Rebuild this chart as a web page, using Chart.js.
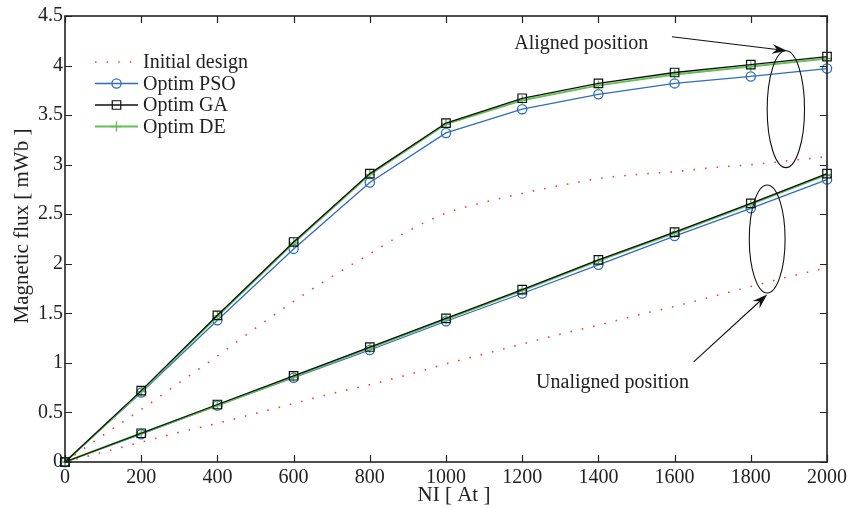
<!DOCTYPE html>
<html><head><meta charset="utf-8">
<script src="https://cdn.jsdelivr.net/npm/chart.js@4.4.1/dist/chart.umd.min.js"></script>
<style>html,body{margin:0;padding:0;background:#fff}#wrap{width:852px;height:508px;position:relative}</style>
</head><body><div id="wrap"><canvas id="c" width="852" height="508"></canvas></div>
<script>
// ---- data ----
const niOpt = [0, 200, 400, 600, 800, 1000, 1200, 1400, 1600, 1800, 2000];
const niInit = [0, 100, 200, 300, 400, 500, 600, 700, 800, 900, 1000, 1100, 1200, 1300, 1400, 1500, 1600, 1700, 1800, 1900, 2000];

const alignedInitial = [0, 0.27, 0.53, 0.80, 1.07, 1.35, 1.62, 1.87, 2.10, 2.33, 2.51, 2.62, 2.71, 2.79, 2.86, 2.90, 2.93, 2.97, 3.00, 3.04, 3.08];
const unalignedInitial = [0, 0.10, 0.20, 0.30, 0.39, 0.49, 0.59, 0.69, 0.78, 0.88, 0.99, 1.09, 1.19, 1.29, 1.38, 1.48, 1.57, 1.67, 1.77, 1.87, 1.96];

const alignedPSO = [0, 0.70, 1.43, 2.15, 2.82, 3.32, 3.56, 3.71, 3.82, 3.89, 3.97];
const alignedGA  = [0, 0.72, 1.48, 2.22, 2.91, 3.42, 3.67, 3.82, 3.93, 4.01, 4.09];
const alignedDE  = [0, 0.71, 1.47, 2.21, 2.90, 3.41, 3.65, 3.80, 3.91, 3.99, 4.07];

const unalignedPSO = [0, 0.28, 0.57, 0.85, 1.13, 1.42, 1.70, 1.99, 2.28, 2.56, 2.85];
const unalignedGA  = [0, 0.29, 0.58, 0.87, 1.16, 1.45, 1.74, 2.04, 2.32, 2.61, 2.91];
const unalignedDE  = [0, 0.29, 0.57, 0.86, 1.15, 1.44, 1.73, 2.03, 2.31, 2.60, 2.90];

const xMin = 0, xMax = 2000, xStep = 200;
const yMin = 0, yMax = 4.5, yStep = 0.5;

const seriesNames = ['Initial design', 'Optim PSO', 'Optim GA', 'Optim DE'];
const xTitle = 'NI [ At ]';
const yTitle = 'Magnetic flux [ mWb ]';
const alignedLabel = 'Aligned position';
const unalignedLabel = 'Unaligned position';

// ---- styles ----
const FONT = "'Liberation Serif', 'Times New Roman', serif";
const TXT = '#222';
const RED = '#ff3b3b', BLUE = '#2e6cc4', BLACK = '#111', GREEN = '#66bf55';

const pts = (xs, ys) => xs.map((v, i) => ({x: v, y: ys[i]}));

const styleInit = {borderColor: RED, borderWidth: 1.6, borderDash: [1.6, 10], borderCapStyle: 'butt', pointRadius: 0, cubicInterpolationMode: 'monotone', order: 4, clip: false};
const stylePSO = {borderColor: BLUE, borderWidth: 1.3, pointStyle: 'circle', pointRadius: 4.6, pointBorderWidth: 1.3, pointBorderColor: BLUE, pointBackgroundColor: 'rgba(0,0,0,0)', order: 3, clip: false};
const styleGA = {borderColor: BLACK, borderWidth: 1.3, pointStyle: 'rect', pointRadius: 6, pointBorderWidth: 1.2, pointBorderColor: BLACK, pointBackgroundColor: 'rgba(0,0,0,0)', order: 1, clip: false};
const styleDE = {borderColor: GREEN, borderWidth: 2, pointStyle: 'cross', pointRadius: 5, pointBorderWidth: 1.4, pointBorderColor: GREEN, order: 2, clip: false};

const datasets = [
  Object.assign({label: seriesNames[0], data: pts(niInit, alignedInitial)}, styleInit),
  Object.assign({label: seriesNames[0], data: pts(niInit, unalignedInitial)}, styleInit),
  Object.assign({label: seriesNames[1], data: pts(niOpt, alignedPSO)}, stylePSO),
  Object.assign({label: seriesNames[1], data: pts(niOpt, unalignedPSO)}, stylePSO),
  Object.assign({label: seriesNames[2], data: pts(niOpt, alignedGA)}, styleGA),
  Object.assign({label: seriesNames[2], data: pts(niOpt, unalignedGA)}, styleGA),
  Object.assign({label: seriesNames[3], data: pts(niOpt, alignedDE)}, styleDE),
  Object.assign({label: seriesNames[3], data: pts(niOpt, unalignedDE)}, styleDE),
];

// annotation geometry in data units
const annot = {
  upperEllipse: {x: 1892, y: 3.56, rx: 49, ry: 0.59},
  lowerEllipse: {x: 1843, y: 2.25, rx: 47, ry: 0.545},
  upperArrow: {x1: 1593, y1: 4.29, x2: 1895, y2: 4.15},
  lowerArrow: {x1: 1650, y1: 1.01, x2: 1843, y2: 1.69},
  upperText: {x: 1355, y: 4.22},
  lowerText: {x: 1437, y: 0.80}
};

function arrowHead(ctx, x1, y1, x2, y2) {
  const ang = Math.atan2(y2 - y1, x2 - x1);
  const L = 15, W = 5, N = 10;
  ctx.save();
  ctx.translate(x2, y2); ctx.rotate(ang);
  ctx.beginPath();
  ctx.moveTo(0, 0);
  ctx.lineTo(-L, -W);
  ctx.lineTo(-N, 0);
  ctx.lineTo(-L, W);
  ctx.closePath();
  ctx.fill();
  ctx.restore();
}

const decor = {
  id: 'decor',
  afterDatasetsDraw(chart) {
    const {ctx, chartArea: a, scales: {x, y}} = chart;
    ctx.save();
    // inward ticks
    ctx.strokeStyle = TXT; ctx.lineWidth = 1.2;
    ctx.beginPath();
    for (const t of x.ticks) {
      const px = Math.round(x.getPixelForValue(t.value)) + 0.5;
      ctx.moveTo(px, a.bottom); ctx.lineTo(px, a.bottom - 7);
      ctx.moveTo(px, a.top); ctx.lineTo(px, a.top + 7);
    }
    for (const t of y.ticks) {
      const py = Math.round(y.getPixelForValue(t.value)) + 0.5;
      ctx.moveTo(a.left, py); ctx.lineTo(a.left + 7, py);
      ctx.moveTo(a.right, py); ctx.lineTo(a.right - 7, py);
    }
    ctx.stroke();
    ctx.lineWidth = 1.6;
    ctx.strokeRect(a.left, a.top, a.right - a.left, a.bottom - a.top);

    // axis titles
    ctx.fillStyle = TXT; ctx.font = '21px ' + FONT;
    ctx.textAlign = 'center'; ctx.textBaseline = 'middle';
    ctx.fillText(xTitle, (a.left + a.right) / 2 + 8, a.bottom + 33);
    ctx.save();
    ctx.translate(22, (a.top + a.bottom) / 2 - 13);
    ctx.rotate(-Math.PI / 2);
    ctx.fillText(yTitle, 0, 0);
    ctx.restore();

    // ellipses
    ctx.strokeStyle = BLACK; ctx.lineWidth = 1.1;
    for (const e of [annot.upperEllipse, annot.lowerEllipse]) {
      const cx = x.getPixelForValue(e.x), cy = y.getPixelForValue(e.y);
      const rx = Math.abs(x.getPixelForValue(e.x + e.rx) - cx);
      const ry = Math.abs(y.getPixelForValue(e.y + e.ry) - cy);
      ctx.beginPath(); ctx.ellipse(cx, cy, rx, ry, 0, 0, Math.PI * 2); ctx.stroke();
    }
    // arrows
    ctx.fillStyle = BLACK;
    for (const ar of [annot.upperArrow, annot.lowerArrow]) {
      const x1 = x.getPixelForValue(ar.x1), y1 = y.getPixelForValue(ar.y1);
      const x2 = x.getPixelForValue(ar.x2), y2 = y.getPixelForValue(ar.y2);
      const ang = Math.atan2(y2 - y1, x2 - x1);
      ctx.beginPath(); ctx.moveTo(x1, y1);
      ctx.lineTo(x2 - 10 * Math.cos(ang), y2 - 10 * Math.sin(ang)); ctx.stroke();
      arrowHead(ctx, x1, y1, x2, y2);
    }
    // annotation texts
    ctx.fillStyle = TXT; ctx.font = '20px ' + FONT;
    ctx.textAlign = 'center'; ctx.textBaseline = 'middle';
    ctx.fillText(alignedLabel, x.getPixelForValue(annot.upperText.x), y.getPixelForValue(annot.upperText.y));
    ctx.fillText(unalignedLabel, x.getPixelForValue(annot.lowerText.x), y.getPixelForValue(annot.lowerText.y));

    // legend
    const lx0 = a.left + 30, lx1 = a.left + 73, tx = a.left + 78;
    let ly = a.top + 46;
    const styles = [styleInit, stylePSO, styleGA, styleDE];
    ctx.textAlign = 'left';
    styles.forEach((s, i) => {
      ctx.save();
      ctx.strokeStyle = s.borderColor; ctx.lineWidth = s.borderWidth;
      ctx.setLineDash(s.borderDash || []);
      ctx.beginPath(); ctx.moveTo(lx0, ly); ctx.lineTo(lx1, ly); ctx.stroke();
      ctx.setLineDash([]);
      if (s.pointRadius) {
        ctx.strokeStyle = s.pointBorderColor; ctx.lineWidth = s.pointBorderWidth;
        ctx.fillStyle = 'rgba(0,0,0,0)';
        Chart.helpers.drawPoint(ctx, {pointStyle: s.pointStyle, radius: s.pointRadius, borderWidth: s.pointBorderWidth, rotation: 0}, (lx0 + lx1) / 2, ly);
      }
      ctx.restore();
      ctx.fillStyle = TXT;
      ctx.fillText(seriesNames[i], tx, ly + 1);
      ly += 21.5;
    });
    ctx.restore();
  }
};

new Chart(document.getElementById('c'), {
  type: 'line',
  data: {datasets},
  options: {
    responsive: false,
    animation: false,
    devicePixelRatio: 1,
    layout: {padding: {top: 16, right: 25, left: 0, bottom: 0}},
    plugins: {legend: {display: false}, tooltip: {enabled: false}},
    scales: {
      x: {
        type: 'linear', min: xMin, max: xMax,
        ticks: {stepSize: xStep, color: TXT, font: {family: FONT, size: 20}, padding: 4, maxRotation: 0, callback: v => String(v)},
        grid: {display: false, drawTicks: false},
        border: {display: false},
        title: {display: false, text: xTitle},
        afterFit(s) { s.height = 46; }
      },
      y: {
        type: 'linear', min: yMin, max: yMax,
        ticks: {stepSize: yStep, color: TXT, font: {family: FONT, size: 20}, padding: 2, callback: v => String(v)},
        grid: {display: false, drawTicks: false},
        border: {display: false},
        title: {display: false, text: yTitle},
        afterFit(s) { s.width = 65; }
      }
    }
  },
  plugins: [decor]
});
</script>
</body></html>
